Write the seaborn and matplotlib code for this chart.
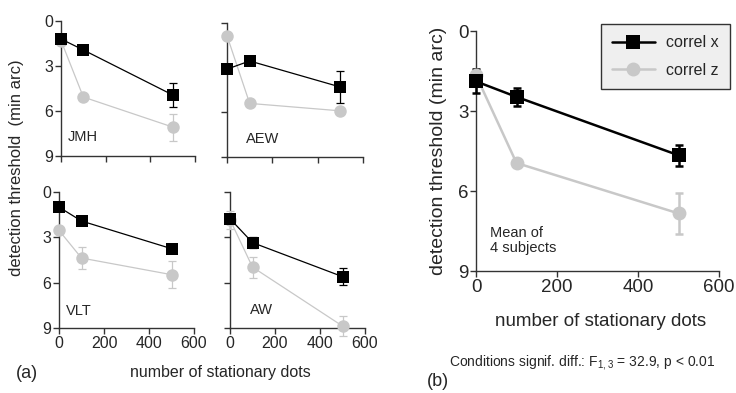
import numpy as np
import pandas as pd
import seaborn as sns
import matplotlib.pyplot as plt

# --- datos ---
dots = [0, 100, 500]
subjects = ["JMH", "AEW", "VLT", "AW"]

jmh_x = [1.2, 1.93, 4.93]
jmh_x_err = [0.15, 0.2, 0.8]
jmh_z = [1.3, 5.07, 7.07]
jmh_z_err = [0.0, 0.0, 0.9]

aew_x = [3.1, 2.55, 4.3]
aew_x_err = [0.0, 0.0, 1.1]
aew_z = [0.85, 5.4, 5.9]
aew_z_err = [0.0, 0.0, 0.2]

vlt_x = [1.0, 1.92, 3.75]
vlt_x_err = [0.0, 0.0, 0.3]
vlt_z = [2.54, 4.37, 5.47]
vlt_z_err = [0.0, 0.75, 0.9]

aw_x = [1.77, 3.35, 5.6]
aw_x_err = [0.2, 0.35, 0.55]
aw_z = [1.83, 4.97, 8.87]
aw_z_err = [0.6, 0.7, 0.65]

mean_x = [1.89, 2.47, 4.66]
mean_x_err = [0.45, 0.33, 0.4]
mean_z = [1.66, 4.95, 6.84]
mean_z_err = [0.2, 0.1, 0.76]

conditions = ["correl x", "correl z"]
colors = {"correl x": "black", "correl z": "#c8c8c8"}
markers = {"correl x": "s", "correl z": "o"}

sns.set_style("ticks")
plt.rcParams['font.family'] = ['Liberation Sans', 'DejaVu Sans']
plt.rcParams['mathtext.default'] = 'regular'

W, H = 736, 393
fig = plt.figure(figsize=(W / 100, H / 100), dpi=100)


def px_axes(left, right, top, bottom):
    return fig.add_axes([left / W, (H - bottom) / H, (right - left) / W, (bottom - top) / H])


def make_df(vx, ex, vz, ez):
    return pd.DataFrame({
        "dots": dots * 2,
        "thr": vx + vz,
        "err": ex + ez,
        "cond": ["correl x"] * 3 + ["correl z"] * 3,
    })


def draw_panel(ax, df, lw, ms, fs, xlabels=True, ylabels=True):
    # z primero para que x quede encima
    for cond in ["correl z", "correl x"]:
        d = df[df["cond"] == cond]
        ax.errorbar(d["dots"], d["thr"], yerr=d["err"], fmt="none",
                    ecolor=colors[cond], elinewidth=lw, capsize=3,
                    capthick=lw, clip_on=False, zorder=3)
        sns.lineplot(data=d, x="dots", y="thr", ax=ax, color=colors[cond],
                     marker=markers[cond], markersize=ms, linewidth=lw,
                     markeredgewidth=0, label=cond, legend=False,
                     clip_on=False, zorder=4)
    ax.set_xlim(0, 600)
    ax.set_ylim(9, 0)
    ax.set_xticks([0, 200, 400, 600])
    ax.set_yticks([0, 3, 6, 9])
    ax.set_xlabel("")
    ax.set_ylabel("")
    sns.despine(ax=ax)
    for s in ["left", "bottom"]:
        ax.spines[s].set_linewidth(1.0)
        ax.spines[s].set_color("#333333")
    ax.tick_params(labelsize=fs, length=4, width=1.0, pad=1.5, color="#333333")
    if not xlabels:
        ax.set_xticklabels([])
    if not ylabels:
        ax.set_yticklabels([])


# --- panel (a) ---
panel_data = [
    (jmh_x, jmh_x_err, jmh_z, jmh_z_err),
    (aew_x, aew_x_err, aew_z, aew_z_err),
    (vlt_x, vlt_x_err, vlt_z, vlt_z_err),
    (aw_x, aw_x_err, aw_z, aw_z_err),
]
boxes = [(61, 195, 21, 156), (227, 363, 23, 157), (59, 194, 192, 328), (230, 365, 192, 328)]
label_pos = [(0.05, 0.09), (0.14, 0.08), (0.055, 0.07), (0.15, 0.08)]

for i, name in enumerate(subjects):
    ax = px_axes(*boxes[i])
    draw_panel(ax, make_df(*panel_data[i]), lw=0.9, ms=9, fs=11.5,
               xlabels=(i >= 2), ylabels=(i % 2 == 0))
    ax.text(*label_pos[i], name, transform=ax.transAxes, fontsize=10.5,
            ha="left", va="bottom")

fig.text(17 / W, 1 - 168 / H, "detection threshold  (min arc)", rotation=90,
         ha="center", va="center", fontsize=12)
fig.text(220 / W, 1 - 373 / H, "number of stationary dots", ha="center",
         va="center", fontsize=11.5)
fig.text(16 / W, 1 - 373 / H, "(a)", ha="left", va="center", fontsize=13)

# --- panel (b) ---
axb = px_axes(476, 719, 31, 271)
draw_panel(axb, make_df(mean_x, mean_x_err, mean_z, mean_z_err), lw=1.8,
           ms=10, fs=13.5)
axb.set_ylabel("detection threshold (min arc)", fontsize=14, labelpad=8)
axb.text(0.058, 0.067, "Mean of\n4 subjects", transform=axb.transAxes,
         fontsize=10.5, ha="left", va="bottom", linespacing=1.1)

handles, labels = axb.get_legend_handles_labels()
order = [labels.index(c) for c in conditions]
leg = fig.legend([handles[k] for k in order], conditions,
                 loc="upper right", bbox_to_anchor=(730 / W, 1 - 24 / H),
                 frameon=True, fancybox=False, fontsize=11.5,
                 handlelength=2.7, handletextpad=0.7, borderpad=0.7,
                 labelspacing=0.8, borderaxespad=0)
leg.get_frame().set_facecolor("#efefef")
leg.get_frame().set_edgecolor("#333333")
leg.get_frame().set_linewidth(1.0)
leg.get_frame().set_alpha(1)

fig.text(601 / W, 1 - 322 / H, "number of stationary dots", ha="center",
         va="center", fontsize=13.5)
fig.text(582 / W, 1 - 363 / H, "Conditions signif. diff.: F$_{1,3}$ = 32.9, p < 0.01",
         ha="center", va="center", fontsize=10)
fig.text(427 / W, 1 - 382 / H, "(b)", ha="left", va="center", fontsize=13)

fig.savefig("out.png", dpi=100)
